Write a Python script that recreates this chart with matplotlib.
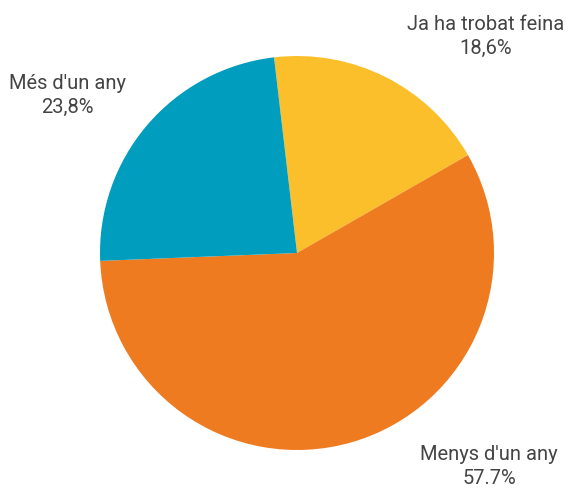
import matplotlib
matplotlib.use('Agg')
import matplotlib.pyplot as plt

labels = ["Ja ha trobat feina", "Menys d'un any", "Més d'un any"]
values = [18.6, 57.7, 23.8]
pct_text = ["18,6%", "57.7%", "23,8%"]
colors = ['#FBBF2B', '#EF7B21', '#009DBF']

# posicions de les etiquetes (en unitats de radi)
label_pos = [(0.955, 1.10), (0.975, -1.085), (-1.165, 0.80)]

plt.rcParams['font.family'] = ['Roboto', 'DejaVu Sans']

fig = plt.figure(figsize=(5.74, 4.88), dpi=100)
ax = fig.add_axes([0, 0, 1, 1])

ax.pie(values, colors=colors, startangle=96.7, counterclock=False,
       radius=1.0, wedgeprops=dict(linewidth=0))

for (x, y), lab, p in zip(label_pos, labels, pct_text):
    ax.text(x, y, lab + "\n" + p, ha='center', va='center',
            fontsize=14.5, color='#444444', linespacing=1.3)

ax.set_xlim(-297 / 197, (574 - 297) / 197)
ax.set_ylim(-(488 - 253) / 197, 253 / 197)
ax.set_aspect('auto')
ax.axis('off')

fig.savefig('out.png', dpi=100)
